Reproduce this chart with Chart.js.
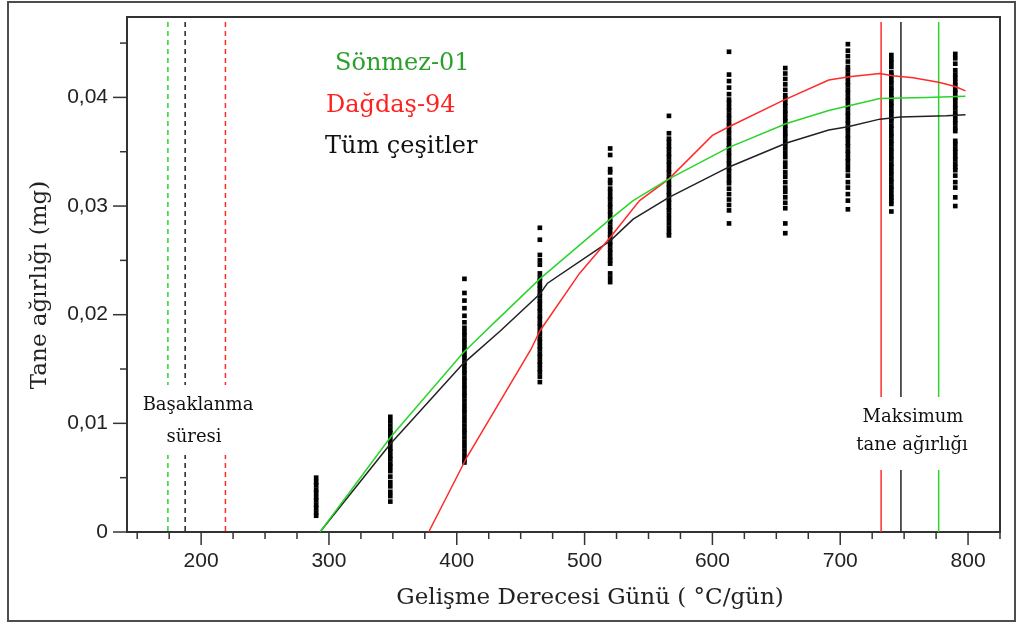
<!DOCTYPE html>
<html>
<head>
<meta charset="utf-8">
<script src="https://cdn.jsdelivr.net/npm/chart.js@4.4.1/dist/chart.umd.min.js"></script>
<style>
  html, body { margin: 0; padding: 0; background: #fff; }
  #wrap { width: 1021px; height: 628px; }
</style>
</head>
<body>
<div id="wrap"><canvas id="grain-chart" width="1021" height="628"></canvas></div>
<script>
// Fitted curves (x = GDD, y = grain weight mg)
const sonmezX = [293, 348, 405, 434, 465, 520, 538, 566, 613, 658, 691, 706, 731, 767, 798];
const sonmezY = [0, 0.0087, 0.0165, 0.0198, 0.0233, 0.0288, 0.0305, 0.0325, 0.0354, 0.0376, 0.0388, 0.0392, 0.0399, 0.0400, 0.0401];

const dagdasX = [378, 408, 458, 465, 496, 520, 543, 566, 600, 613, 655, 691, 707, 731, 741, 757, 777, 790, 798];
const dagdasY = [0, 0.0069, 0.0168, 0.0185, 0.0238, 0.0271, 0.0305, 0.0325, 0.0365, 0.0373, 0.0397, 0.0416, 0.0419, 0.0422, 0.0420, 0.0418, 0.0414, 0.0410, 0.0406];

const allX = [293, 348, 405, 434, 465, 471, 520, 538, 566, 613, 658, 691, 706, 731, 747, 783, 798];
const allY = [0, 0.0081, 0.0155, 0.0185, 0.0219, 0.0229, 0.0268, 0.0288, 0.0308, 0.0336, 0.0358, 0.0370, 0.0373, 0.0380, 0.0382, 0.0383, 0.0384];

// Observations, one column per sampling date
const obsX = [290, 348, 406, 465, 520, 566, 613, 657, 706, 740, 790];
const obsY = [
  [0.0015, 0.0018, 0.0022, 0.0025, 0.0029, 0.0032, 0.0036, 0.0039, 0.0043, 0.0046, 0.0050],
  [0.0106, 0.0102, 0.0098, 0.0094, 0.0091, 0.0088, 0.0084, 0.0081, 0.0077, 0.0074, 0.0070, 0.0067, 0.0063, 0.0060, 0.0056, 0.0051, 0.0046, 0.0042, 0.0037, 0.0033, 0.0028],
  [0.0233, 0.0220, 0.0213, 0.0206, 0.0199, 0.0193, 0.0188, 0.0184, 0.0181, 0.0177, 0.0174, 0.0170, 0.0167, 0.0163, 0.0160, 0.0156, 0.0153, 0.0149, 0.0146, 0.0142, 0.0139, 0.0135, 0.0132, 0.0128, 0.0125, 0.0121, 0.0117, 0.0113, 0.0110, 0.0106, 0.0102, 0.0098, 0.0094, 0.0091, 0.0087, 0.0083, 0.0079, 0.0075, 0.0071, 0.0067, 0.0064],
  [0.0280, 0.0269, 0.0255, 0.0250, 0.0246, 0.0238, 0.0234, 0.0231, 0.0227, 0.0224, 0.0220, 0.0217, 0.0213, 0.0210, 0.0206, 0.0203, 0.0199, 0.0196, 0.0192, 0.0189, 0.0185, 0.0182, 0.0178, 0.0175, 0.0171, 0.0168, 0.0164, 0.0161, 0.0157, 0.0154, 0.0150, 0.0147, 0.0143, 0.0138],
  [0.0353, 0.0347, 0.0334, 0.0331, 0.0324, 0.0321, 0.0316, 0.0313, 0.0309, 0.0306, 0.0302, 0.0299, 0.0295, 0.0292, 0.0288, 0.0285, 0.0281, 0.0278, 0.0274, 0.0271, 0.0267, 0.0264, 0.0260, 0.0257, 0.0253, 0.0250, 0.0247, 0.0238, 0.0234, 0.0230],
  [0.0383, 0.0367, 0.0362, 0.0359, 0.0355, 0.0352, 0.0348, 0.0345, 0.0341, 0.0338, 0.0334, 0.0331, 0.0327, 0.0324, 0.0320, 0.0317, 0.0313, 0.0310, 0.0306, 0.0303, 0.0299, 0.0296, 0.0292, 0.0288, 0.0284, 0.0280, 0.0276, 0.0273],
  [0.0442, 0.0421, 0.0415, 0.0409, 0.0403, 0.0398, 0.0395, 0.0391, 0.0388, 0.0384, 0.0381, 0.0377, 0.0374, 0.0370, 0.0367, 0.0363, 0.0360, 0.0356, 0.0353, 0.0349, 0.0346, 0.0342, 0.0339, 0.0335, 0.0332, 0.0328, 0.0324, 0.0321, 0.0316, 0.0311, 0.0306, 0.0301, 0.0296, 0.0284],
  [0.0427, 0.0422, 0.0417, 0.0412, 0.0407, 0.0402, 0.0399, 0.0395, 0.0392, 0.0388, 0.0385, 0.0381, 0.0378, 0.0374, 0.0371, 0.0367, 0.0364, 0.0360, 0.0357, 0.0353, 0.0349, 0.0345, 0.0340, 0.0336, 0.0331, 0.0327, 0.0322, 0.0317, 0.0313, 0.0308, 0.0303, 0.0298, 0.0284, 0.0275],
  [0.0449, 0.0443, 0.0438, 0.0433, 0.0428, 0.0425, 0.0421, 0.0418, 0.0414, 0.0411, 0.0407, 0.0404, 0.0400, 0.0397, 0.0393, 0.0390, 0.0386, 0.0383, 0.0379, 0.0376, 0.0372, 0.0369, 0.0365, 0.0362, 0.0358, 0.0355, 0.0351, 0.0348, 0.0344, 0.0341, 0.0337, 0.0333, 0.0328, 0.0322, 0.0317, 0.0311, 0.0305, 0.0297],
  [0.0439, 0.0435, 0.0432, 0.0428, 0.0423, 0.0420, 0.0416, 0.0413, 0.0409, 0.0406, 0.0402, 0.0399, 0.0395, 0.0392, 0.0388, 0.0385, 0.0381, 0.0378, 0.0374, 0.0371, 0.0367, 0.0364, 0.0360, 0.0357, 0.0353, 0.0350, 0.0346, 0.0343, 0.0339, 0.0336, 0.0332, 0.0329, 0.0325, 0.0322, 0.0318, 0.0315, 0.0311, 0.0308, 0.0305, 0.0302, 0.0295],
  [0.0440, 0.0436, 0.0431, 0.0425, 0.0421, 0.0418, 0.0414, 0.0411, 0.0407, 0.0404, 0.0400, 0.0397, 0.0393, 0.0390, 0.0386, 0.0383, 0.0379, 0.0376, 0.0372, 0.0369, 0.0360, 0.0357, 0.0353, 0.0350, 0.0346, 0.0343, 0.0339, 0.0336, 0.0333, 0.0328, 0.0322, 0.0317, 0.0308, 0.0300]
];

// Heading time (dashed) and maximum grain weight (solid) markers
const headingX = [174, 187.5, 219];
const headingColors = ['#2bd42b', '#222222', '#ff2b2b'];
const maxWeightX = [732, 747.5, 777];
const maxWeightColors = ['#ff2b2b', '#222222', '#2bd42b'];

const legendLabels = ['Sönmez-01', 'Dağdaş-94', 'Tüm çeşitler'];
const legendColors = ['#2ca02c', '#ff2020', '#111111'];

const serif = '"DejaVu Serif", serif';
const sans = '"Liberation Sans", Arial, sans-serif';

function toPoints(xs, ys) {
  return xs.map((x, i) => ({x: x, y: ys[i]}));
}

let obsPoints = [];
obsX.forEach((x, i) => obsY[i].forEach(y => obsPoints.push({x: x, y: y})));

// Drawing extras: frame, marker lines, annotations, ticks, titles
let decor = {
  id: 'decor',
  beforeDraw(chart) {
    let c = chart.ctx;
    c.save();
    c.fillStyle = '#fff';
    c.fillRect(0, 0, chart.width, chart.height);
    c.strokeStyle = '#4d4d4d';
    c.lineWidth = 2;
    c.strokeRect(8, 2, 1007, 619);
    c.restore();
  },
  beforeDatasetsDraw(chart) {
    let c = chart.ctx, a = chart.chartArea, x = chart.scales.x;
    c.save();
    c.lineWidth = 1.5;
    c.setLineDash([5, 4]);
    headingX.forEach((v, i) => {
      let px = x.getPixelForValue(v);
      c.strokeStyle = headingColors[i];
      c.beginPath(); c.moveTo(px, a.top + 5); c.lineTo(px, a.bottom); c.stroke();
    });
    c.setLineDash([]);
    maxWeightX.forEach((v, i) => {
      let px = x.getPixelForValue(v);
      c.strokeStyle = maxWeightColors[i];
      c.beginPath(); c.moveTo(px, a.top + 5); c.lineTo(px, a.bottom); c.stroke();
    });
    c.restore();
  },
  afterDatasetsDraw(chart) {
    let c = chart.ctx;
    c.save();
    // label boxes over the marker lines
    c.fillStyle = '#fff';
    c.fillRect(140, 385, 118, 70);
    c.fillRect(855, 397, 116, 73);
    c.fillStyle = '#111';
    c.font = '18px ' + serif;
    c.textAlign = 'center';
    c.textBaseline = 'middle';
    c.fillText('Başaklanma', 198, 405);
    c.fillText('süresi', 194, 437);
    c.fillText('Maksimum', 913, 417);
    c.fillText('tane ağırlığı', 912, 445);

    // legend
    c.font = '24px ' + serif;
    c.textAlign = 'left';
    let lx = [335, 326, 325], ly = [64, 106, 147];
    legendLabels.forEach((t, i) => {
      c.fillStyle = legendColors[i];
      c.fillText(t, lx[i], ly[i]);
    });
    c.restore();
  },
  afterDraw(chart) {
    let c = chart.ctx, a = chart.chartArea, x = chart.scales.x, y = chart.scales.y;
    c.save();
    c.strokeStyle = '#333';
    c.lineWidth = 2;
    c.beginPath();
    c.moveTo(a.left, a.top); c.lineTo(a.right, a.top); c.lineTo(a.right, a.bottom);
    c.stroke();

    c.lineWidth = 1.5;
    x.ticks.forEach(t => {
      let v = t.value;
      if (Math.abs(v / 25 - Math.round(v / 25)) > 1e-6) return;
      let len = Math.abs(v / 100 - Math.round(v / 100)) < 1e-6 ? 13 : 7;
      let px = x.getPixelForValue(v);
      c.beginPath(); c.moveTo(px, a.bottom); c.lineTo(px, a.bottom + len); c.stroke();
    });
    y.ticks.forEach(t => {
      let v = t.value;
      let len = Math.abs(v * 100 - Math.round(v * 100)) < 1e-6 ? 14 : 7;
      let py = y.getPixelForValue(v);
      c.beginPath(); c.moveTo(a.left, py); c.lineTo(a.left - len, py); c.stroke();
    });

    // axis titles
    c.fillStyle = '#222';
    c.font = '23px ' + serif;
    c.textAlign = 'center';
    c.textBaseline = 'middle';
    c.fillText('Gelişme Derecesi Günü ( °C/gün)', 590, 598);
    c.translate(40, 285);
    c.rotate(-Math.PI / 2);
    c.fillText('Tane ağırlığı (mg)', 0, 0);
    c.restore();
  }
};

let ctx = document.getElementById('grain-chart').getContext('2d');

let grainChart = new Chart(ctx, {
  type: 'scatter',
  data: {
    datasets: [
      {
        type: 'line',
        label: legendLabels[0],
        data: toPoints(sonmezX, sonmezY),
        borderColor: '#2bd42b',
        borderWidth: 1.5,
        pointRadius: 0,
        tension: 0,
        fill: false
      },
      {
        type: 'line',
        label: legendLabels[1],
        data: toPoints(dagdasX, dagdasY),
        borderColor: '#ff2b2b',
        borderWidth: 1.5,
        pointRadius: 0,
        tension: 0,
        fill: false
      },
      {
        type: 'line',
        label: legendLabels[2],
        data: toPoints(allX, allY),
        borderColor: '#222222',
        borderWidth: 1.5,
        pointRadius: 0,
        tension: 0,
        fill: false
      },
      {
        label: 'Gözlem',
        data: obsPoints,
        pointStyle: 'rect',
        pointRadius: 3.3,
        pointBorderWidth: 0,
        backgroundColor: '#000',
        borderColor: '#000'
      }
    ]
  },
  options: {
    responsive: false,
    animation: false,
    events: [],
    layout: {
      padding: {left: 0, right: 21, top: 17, bottom: 0}
    },
    scales: {
      x: {
        type: 'linear',
        min: 142,
        max: 825,
        grid: {display: false, drawTicks: false},
        border: {display: true, color: '#333', width: 2},
        ticks: {
          stepSize: 25,
          includeBounds: false,
          autoSkip: false,
          maxRotation: 0,
          padding: 17,
          color: '#222',
          font: {family: sans, size: 21},
          callback: v => (Math.abs(v / 100 - Math.round(v / 100)) < 1e-6 ? String(v) : '')
        },
        afterFit: s => { s.height = 96; s.paddingLeft = 0; s.paddingRight = 0; }
      },
      y: {
        type: 'linear',
        min: 0,
        max: 0.0474,
        grid: {display: false, drawTicks: false},
        border: {display: true, color: '#333', width: 2},
        ticks: {
          stepSize: 0.005,
          includeBounds: false,
          autoSkip: false,
          padding: 19,
          color: '#222',
          font: {family: sans, size: 21},
          callback: v => {
            if (Math.abs(v * 100 - Math.round(v * 100)) > 1e-6) return '';
            return v === 0 ? '0' : v.toFixed(2).replace('.', ',');
          }
        },
        afterFit: s => { s.width = 127; s.paddingTop = 0; s.paddingBottom = 0; }
      }
    },
    plugins: {
      legend: {display: false},
      tooltip: {enabled: false}
    }
  },
  plugins: [decor]
});
</script>
</body>
</html>
